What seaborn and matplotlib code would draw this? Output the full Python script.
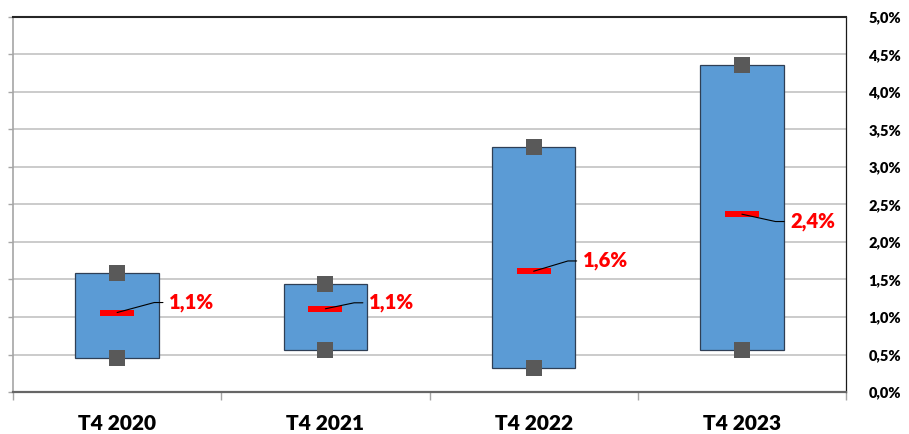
import numpy as np
import pandas as pd
import matplotlib
matplotlib.use("Agg")
import matplotlib.pyplot as plt
from matplotlib.path import Path
from matplotlib.ticker import FixedLocator, FuncFormatter
import seaborn as sns

# Quarterly ranges (in %): lower end, upper end and central value
categories = ["T4 2020", "T4 2021", "T4 2022", "T4 2023"]
low_values = [0.46, 0.56, 0.32, 0.56]
high_values = [1.58, 1.44, 3.27, 4.36]
median_values = [1.06, 1.11, 1.61, 2.37]
y_tick_values = [0.0, 0.5, 1.0, 1.5, 2.0, 2.5, 3.0, 3.5, 4.0, 4.5, 5.0]

# Label placement relative to each central value (points)
label_dx = [37.5, 31.5, 35.5, 35.0]
label_dy = [7.2, 4.3, 7.4, -5.3]

sns.set_theme(style="white")
plt.rcParams["font.family"] = ["Lato", "DejaVu Sans"]
plt.rcParams["font.weight"] = "heavy"

df = pd.DataFrame({
    "period": categories,
    "low": low_values,
    "high": high_values,
    "median": median_values,
})
df["span"] = df["high"] - df["low"]

ends = pd.DataFrame({
    "period": categories + categories,
    "value": low_values + high_values,
})

fig, ax = plt.subplots(figsize=(9.09, 4.34), dpi=100)
fig.subplots_adjust(left=0.0143, right=0.9307, bottom=0.0965, top=0.9615)

grid_color = "#BDBDBD"

# Range boxes from low to high
sns.barplot(
    data=df, x="period", y="span", order=categories,
    bottom=df["low"].to_numpy(), width=0.4,
    color="#5B9BD5", saturation=1, edgecolor="#2F3F55", linewidth=0.9,
    errorbar=None, ax=ax, zorder=2,
)

# End-point squares
sns.stripplot(
    data=ends, x="period", y="value", order=categories, jitter=False,
    marker="s", size=12, color="#595959", linewidth=0, ax=ax, zorder=4,
)

# Central value as a flat red bar
bar_marker = Path([(-1, -0.21), (1, -0.21), (1, 0.21), (-1, 0.21), (-1, -0.21)],
                  [Path.MOVETO, Path.LINETO, Path.LINETO, Path.LINETO, Path.CLOSEPOLY])
sns.stripplot(
    data=df, x="period", y="median", order=categories, jitter=False,
    marker=bar_marker, size=23.8, color="#FF0000", linewidth=0, ax=ax, zorder=5,
)

# Value labels with leader lines
for i, m in enumerate(median_values):
    text = f"{m:.1f}".replace(".", ",") + "%"
    ax.annotate(
        text, xy=(i, m), xytext=(label_dx[i], label_dy[i]),
        textcoords="offset points", ha="left", va="center",
        color="#FF0000", fontsize=14.5, fontweight="heavy", zorder=6,
        arrowprops=dict(
            arrowstyle="-", color="black", lw=0.8, patchA=None,
            shrinkA=4.5, shrinkB=0, relpos=(0, 0.5),
            connectionstyle="arc,angleA=180,armA=15,angleB=0,armB=0,rad=0",
        ),
    )

# Axes
ax.set_xlim(-0.5, len(categories) - 0.5)
ax.set_ylim(0, 5)
ax.set_xlabel("")
ax.set_ylabel("")

ax.yaxis.set_major_locator(FixedLocator(y_tick_values))
ax.yaxis.set_major_formatter(
    FuncFormatter(lambda v, _: f"{v:.1f}".replace(".", ",") + "%"))
ax.tick_params(axis="y", which="major", left=True, right=False,
               labelleft=False, labelright=True, length=3.6, width=1.0,
               color="#A6A6A6", pad=12.5, labelsize=10.5, labelcolor="black")
plt.setp(ax.get_yticklabels(), fontweight="heavy")

ax.set_xticks(range(len(categories)))
ax.set_xticklabels(categories)
ax.xaxis.set_minor_locator(FixedLocator(np.arange(-0.5, len(categories), 1.0)))
ax.tick_params(axis="x", which="major", length=0, pad=16, labelsize=15,
               labelcolor="black")
ax.tick_params(axis="x", which="minor", bottom=True, length=5.5, width=1.0,
               color="#A6A6A6")
plt.setp(ax.get_xticklabels(), fontweight="heavy")

ax.yaxis.grid(True, color=grid_color, linewidth=1.1)
ax.xaxis.grid(False)
ax.set_axisbelow(True)

ax.spines["left"].set_color("#A6A6A6")
ax.spines["left"].set_linewidth(1.2)
ax.spines["right"].set_color("#1A1A1A")
ax.spines["right"].set_linewidth(0.9)
ax.spines["top"].set_color("#262626")
ax.spines["top"].set_linewidth(1.5)
ax.spines["bottom"].set_color("#666666")
ax.spines["bottom"].set_linewidth(1.6)
for s in ax.spines.values():
    s.set_visible(True)

fig.savefig("out.png", dpi=100, facecolor="white")
